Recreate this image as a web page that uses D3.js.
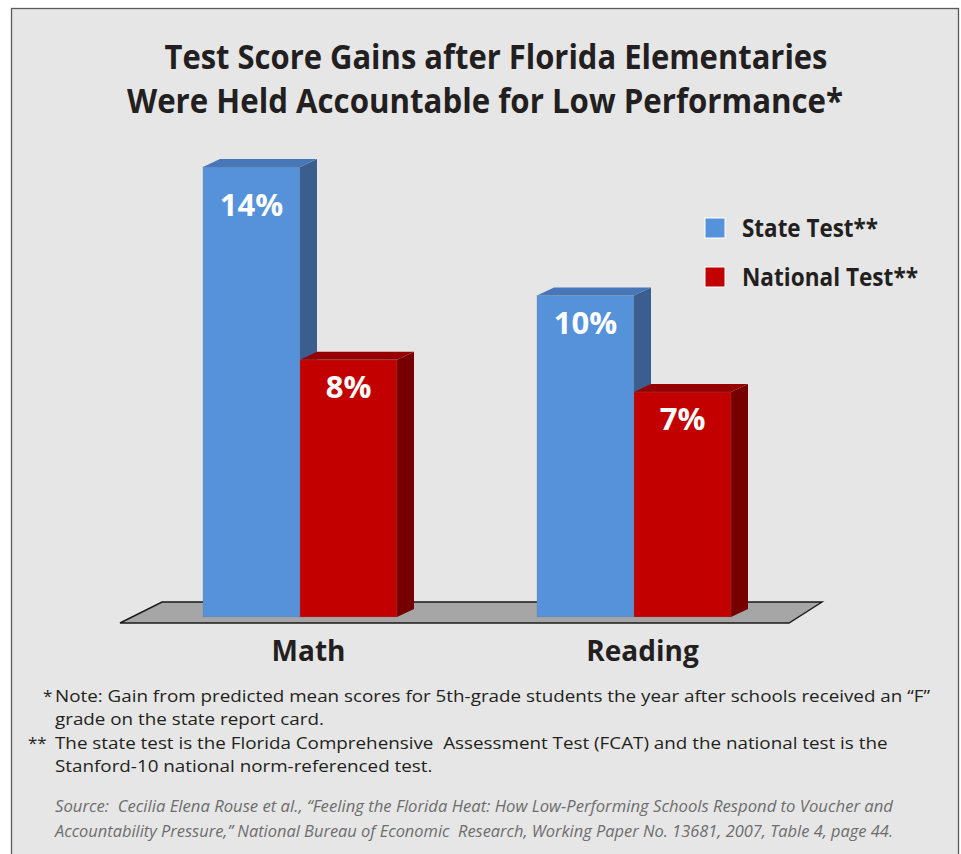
<!DOCTYPE html>
<html>
<head>
<meta charset="utf-8">
<script src="https://cdn.jsdelivr.net/npm/d3@7.9.0/dist/d3.min.js"></script>
<style>
  html, body { margin: 0; padding: 0; background: #fff; }
  svg { display: block; font-family: 'Open Sans', 'Noto Sans', sans-serif; }
</style>
</head>
<body>
<svg id="chart" width="961" height="854"></svg>
<script>
// ====== Data ======
const categories = ['Math', 'Reading'];
const seriesNames = ['State Test**', 'National Test**'];
const stateValues = [14, 10];
const nationalValues = [8, 7];
const titleLines = [
  'Test Score Gains after Florida Elementaries',
  'Were Held Accountable for Low Performance*'
];
const noteLines = [
  'Note: Gain from predicted mean scores for 5th-grade students the year after schools received an \u201cF\u201d',
  'grade on the state report card.',
  'The state test is the Florida Comprehensive  Assessment Test (FCAT) and the national test is the',
  'Stanford-10 national norm-referenced test.'
];
const noteMarks = ['*', '', '**', ''];
const sourceLines = [
  'Source:  Cecilia Elena Rouse et al., \u201cFeeling the Florida Heat: How Low-Performing Schools Respond to Voucher and',
  'Accountability Pressure,\u201d National Bureau of Economic  Research, Working Paper No. 13681, 2007, Table 4, page 44.'
];

const colors = {
  'State Test**': { front: '#5592d9', top: '#4777b8', side: '#3a5e8e' },
  'National Test**': { front: '#c20000', top: '#960000', side: '#760000' }
};
const ink = '#231f20';

const svg = d3.select('#chart');

// ====== Frame ======
svg.append('rect')
  .attr('x', 11.5).attr('y', 8.5)
  .attr('width', 947).attr('height', 860)
  .attr('fill', '#e6e6e6')
  .attr('stroke', '#5a5a5a')
  .attr('stroke-width', 1.3);

// squeeze a text element horizontally (Myriad is narrower than Open Sans)
function fitText(sel, width) {
  sel.attr('textLength', width).attr('lengthAdjust', 'spacingAndGlyphs');
}
function squeeze(sel, ratio) {
  const w = sel.node().getComputedTextLength();
  sel.call(fitText, w * ratio);
}

// ====== Title ======
const titleX = [496, 485];
const titleWidths = [663, 716];
titleLines.forEach((t, i) => {
  svg.append('text')
    .attr('x', titleX[i]).attr('y', 69 + i * 44)
    .attr('text-anchor', 'middle')
    .attr('font-size', 34).attr('font-weight', 700)
    .attr('fill', ink)
    .text(t)
    .call(fitText, titleWidths[i]);
});

// ====== Scales ======
const baseY = 617;
const y = d3.scaleLinear().domain([0, 14]).range([baseY, 167]);
const x0 = d3.scalePoint().domain(categories).range([300, 634]);
const x1 = d3.scaleBand().domain(seriesNames).range([-97, 97]);
const dx = 17, dy = 8;
const maxVal = d3.max(stateValues.concat(nationalValues));

// ====== Floor ======
svg.append('polygon')
  .attr('points', [[120, 623], [162, 602], [822, 602], [789, 623]].map(p => p.join(',')).join(' '))
  .attr('fill', '#a6a6a6')
  .attr('stroke', '#1a1a1a')
  .attr('stroke-width', 1.4);

// ====== Bars ======
const rows = categories.flatMap((c, i) => [
  { cat: c, series: seriesNames[0], value: stateValues[i] },
  { cat: c, series: seriesNames[1], value: nationalValues[i] }
]);

const bars = svg.append('g').selectAll('g').data(rows).join('g');

bars.each(function (d) {
  const g = d3.select(this);
  const xl = x0(d.cat) + x1(d.series);
  const w = x1.bandwidth();
  const yt = y(d.value);
  const c = colors[d.series];
  const pts = (arr) => arr.map(p => p.join(',')).join(' ');

  g.append('polygon')
    .attr('points', pts([[xl + w, yt], [xl + w + dx, yt - dy], [xl + w + dx, baseY - dy], [xl + w, baseY]]))
    .attr('fill', c.side);
  g.append('polygon')
    .attr('points', pts([[xl, yt], [xl + dx, yt - dy], [xl + w + dx, yt - dy], [xl + w, yt]]))
    .attr('fill', c.top);
  g.append('rect')
    .attr('x', xl).attr('y', yt)
    .attr('width', w).attr('height', baseY - yt)
    .attr('fill', c.front)
    .attr('stroke', 'rgba(120,120,120,0.35)')
    .attr('stroke-width', 0.8);

  // the tallest bar has its label set a little lower
  g.append('text')
    .attr('x', xl + w / 2).attr('y', yt + (d.value === maxVal ? 49 : 38))
    .attr('text-anchor', 'middle')
    .attr('font-size', 31).attr('font-weight', 700)
    .attr('fill', '#fff')
    .text(d.value + '%');
});

// ====== Category labels ======
svg.append('g').selectAll('text').data(categories).join('text')
  .attr('x', d => x0(d) + dx / 2)
  .attr('y', 661)
  .attr('text-anchor', 'middle')
  .attr('font-size', 28).attr('font-weight', 700)
  .attr('fill', ink)
  .text(d => d);

// ====== Legend ======
const legend = svg.append('g').attr('transform', 'translate(705,218)');
seriesNames.forEach((s, i) => {
  legend.append('rect')
    .attr('x', 0).attr('y', i * 49)
    .attr('width', 20).attr('height', 20)
    .attr('fill', colors[s].front)
    .attr('stroke', '#fff').attr('stroke-width', 1);
  legend.append('text')
    .attr('x', 37).attr('y', i * 49 + 19)
    .attr('font-size', 25).attr('font-weight', 700)
    .attr('fill', ink)
    .text(s)
    .call(fitText, i === 0 ? 136 : 176);
});

// ====== Footnotes ======
const noteY = [702, 725, 749, 772];
const marksX = { '*': 43, '**': 28 };
const noteTexts = noteLines.map((t, i) => svg.append('text')
  .attr('x', 55).attr('y', noteY[i])
  .attr('font-size', 17)
  .attr('fill', ink)
  .attr('xml:space', 'preserve')
  .text(t));
const noteRatio = 875 / noteTexts[0].node().getComputedTextLength();
noteTexts.forEach(t => t.call(squeeze, noteRatio));

noteMarks.forEach((m, i) => {
  if (!m) return;
  svg.append('text')
    .attr('x', marksX[m]).attr('y', noteY[i])
    .attr('font-size', 17)
    .attr('fill', ink)
    .text(m);
});

const srcTexts = sourceLines.map((s, i) => svg.append('text')
  .attr('x', 55).attr('y', 812 + i * 25)
  .attr('font-size', 17).attr('font-style', 'italic')
  .attr('fill', '#6d6d6d')
  .attr('xml:space', 'preserve')
  .text(s));
srcTexts.forEach(t => t.call(fitText, 838));
</script>
</body>
</html>
